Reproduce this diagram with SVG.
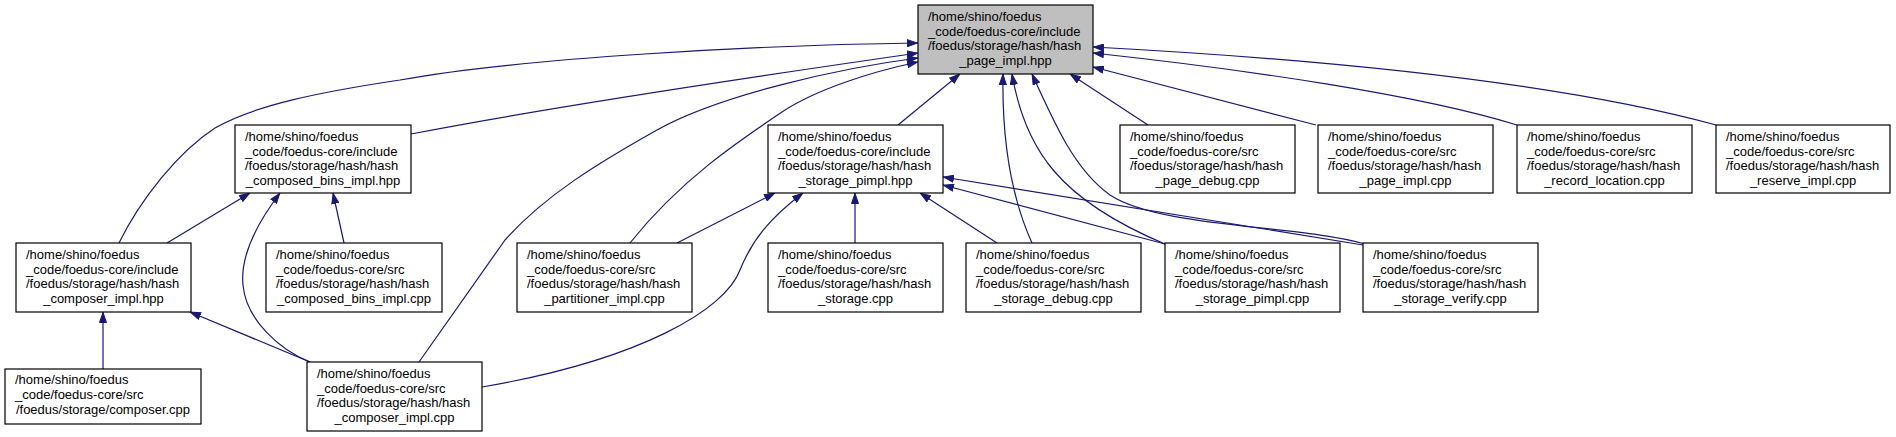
<svg xmlns="http://www.w3.org/2000/svg" width="1896" height="437" viewBox="0 0 1896 437">
<style>
.box{fill:#ffffff;stroke:#000000;stroke-width:1.2}
.root{fill:#bfbfbf;stroke:#000000;stroke-width:1.2}
text{font-family:"Liberation Sans",Arial,sans-serif;font-size:13px;fill:#000000}
.c{text-anchor:middle}
.e{fill:none;stroke:#191970;stroke-width:1.2;marker-start:url(#ah)}
</style>
<defs>
<marker id="ah" viewBox="0 0 11 8" refX="11" refY="4" markerWidth="11" markerHeight="8" markerUnits="userSpaceOnUse" orient="auto-start-reverse">
<path d="M0.5,0.5 L10.5,4 L0.5,7.5 z" fill="#191970" stroke="#191970" stroke-width="1"/>
</marker>
</defs>
<rect width="1896" height="437" fill="#ffffff"/>
<g id="edges">
<path class="e" d="M918,43 C760,45 520,58 400,80 C320,92 255,105 215,128 C178,152 140,200 119,243"/>
<path class="e" d="M918,53 C800,70 560,105 411,134"/>
<path class="e" d="M918,58 C840,68 720,95 657,130 C600,162 545,195 505,240 L419,362"/>
<path class="e" d="M918,62 C870,72 815,90 782,112 C740,140 680,180 630,243"/>
<path class="e" d="M960,74 L898,125"/>
<path class="e" d="M1003,74 C1002,130 1008,190 1032,243"/>
<path class="e" d="M1012,74 C1025,150 1060,200 1165,244"/>
<path class="e" d="M1032,74 C1055,125 1075,170 1110,195 C1160,228 1300,225 1365,244"/>
<path class="e" d="M1070,74 L1148,125"/>
<path class="e" d="M1093,67 L1316,125"/>
<path class="e" d="M1093,53 C1250,70 1420,95 1517,125"/>
<path class="e" d="M1093,47 C1300,58 1550,80 1716,125"/>
<path class="e" d="M250,193 L167,243"/>
<path class="e" d="M280,193 C258,222 240,255 243,285 C246,320 280,350 310,362"/>
<path class="e" d="M333,193 L344,243"/>
<path class="e" d="M103,312 L103,369"/>
<path class="e" d="M190,312 L310,362"/>
<path class="e" d="M775,193 L677,243"/>
<path class="e" d="M803,193 C770,218 752,240 740,270 C725,310 640,360 482,387"/>
<path class="e" d="M855,193 L855,243"/>
<path class="e" d="M920,193 L997,243"/>
<path class="e" d="M943,185 L1165,244"/>
<path class="e" d="M943,177 L1363,245"/>
</g>
<g id="n_page_impl_hpp">
<rect class="root" x="918" y="5" width="175" height="69"/>
<text><tspan x="928" y="20.8">/home/shino/foedus</tspan><tspan x="928" y="35.6">_code/foedus-core/include</tspan><tspan x="928" y="50.4">/foedus/storage/hash/hash</tspan><tspan class="c" x="1005.5" y="65.2">_page_impl.hpp</tspan></text>
</g>
<g id="n_composed_bins_impl_hpp">
<rect class="box" x="235" y="125" width="176" height="68"/>
<text><tspan x="245" y="140.8">/home/shino/foedus</tspan><tspan x="245" y="155.6">_code/foedus-core/include</tspan><tspan x="245" y="170.4">/foedus/storage/hash/hash</tspan><tspan class="c" x="323" y="185.2">_composed_bins_impl.hpp</tspan></text>
</g>
<g id="n_storage_pimpl_hpp">
<rect class="box" x="768" y="125" width="175" height="68"/>
<text><tspan x="778" y="140.8">/home/shino/foedus</tspan><tspan x="778" y="155.6">_code/foedus-core/include</tspan><tspan x="778" y="170.4">/foedus/storage/hash/hash</tspan><tspan class="c" x="855.5" y="185.2">_storage_pimpl.hpp</tspan></text>
</g>
<g id="n_page_debug_cpp">
<rect class="box" x="1120" y="125" width="175" height="68"/>
<text><tspan x="1130" y="140.8">/home/shino/foedus</tspan><tspan x="1130" y="155.6">_code/foedus-core/src</tspan><tspan x="1130" y="170.4">/foedus/storage/hash/hash</tspan><tspan class="c" x="1207.5" y="185.2">_page_debug.cpp</tspan></text>
</g>
<g id="n_page_impl_cpp">
<rect class="box" x="1318" y="125" width="175" height="68"/>
<text><tspan x="1328" y="140.8">/home/shino/foedus</tspan><tspan x="1328" y="155.6">_code/foedus-core/src</tspan><tspan x="1328" y="170.4">/foedus/storage/hash/hash</tspan><tspan class="c" x="1405.5" y="185.2">_page_impl.cpp</tspan></text>
</g>
<g id="n_record_location_cpp">
<rect class="box" x="1517" y="125" width="175" height="68"/>
<text><tspan x="1527" y="140.8">/home/shino/foedus</tspan><tspan x="1527" y="155.6">_code/foedus-core/src</tspan><tspan x="1527" y="170.4">/foedus/storage/hash/hash</tspan><tspan class="c" x="1604.5" y="185.2">_record_location.cpp</tspan></text>
</g>
<g id="n_reserve_impl_cpp">
<rect class="box" x="1716" y="125" width="174" height="68"/>
<text><tspan x="1726" y="140.8">/home/shino/foedus</tspan><tspan x="1726" y="155.6">_code/foedus-core/src</tspan><tspan x="1726" y="170.4">/foedus/storage/hash/hash</tspan><tspan class="c" x="1803" y="185.2">_reserve_impl.cpp</tspan></text>
</g>
<g id="n_composer_impl_hpp">
<rect class="box" x="16" y="243" width="175" height="69"/>
<text><tspan x="26" y="258.8">/home/shino/foedus</tspan><tspan x="26" y="273.6">_code/foedus-core/include</tspan><tspan x="26" y="288.4">/foedus/storage/hash/hash</tspan><tspan class="c" x="103.5" y="303.2">_composer_impl.hpp</tspan></text>
</g>
<g id="n_composed_bins_impl_cpp">
<rect class="box" x="266" y="243" width="176" height="69"/>
<text><tspan x="276" y="258.8">/home/shino/foedus</tspan><tspan x="276" y="273.6">_code/foedus-core/src</tspan><tspan x="276" y="288.4">/foedus/storage/hash/hash</tspan><tspan class="c" x="354" y="303.2">_composed_bins_impl.cpp</tspan></text>
</g>
<g id="n_partitioner_impl_cpp">
<rect class="box" x="517" y="243" width="175" height="69"/>
<text><tspan x="527" y="258.8">/home/shino/foedus</tspan><tspan x="527" y="273.6">_code/foedus-core/src</tspan><tspan x="527" y="288.4">/foedus/storage/hash/hash</tspan><tspan class="c" x="604.5" y="303.2">_partitioner_impl.cpp</tspan></text>
</g>
<g id="n_storage_cpp">
<rect class="box" x="768" y="243" width="175" height="69"/>
<text><tspan x="778" y="258.8">/home/shino/foedus</tspan><tspan x="778" y="273.6">_code/foedus-core/src</tspan><tspan x="778" y="288.4">/foedus/storage/hash/hash</tspan><tspan class="c" x="855.5" y="303.2">_storage.cpp</tspan></text>
</g>
<g id="n_storage_debug_cpp">
<rect class="box" x="966" y="243" width="175" height="69"/>
<text><tspan x="976" y="258.8">/home/shino/foedus</tspan><tspan x="976" y="273.6">_code/foedus-core/src</tspan><tspan x="976" y="288.4">/foedus/storage/hash/hash</tspan><tspan class="c" x="1053.5" y="303.2">_storage_debug.cpp</tspan></text>
</g>
<g id="n_storage_pimpl_cpp">
<rect class="box" x="1165" y="243" width="175" height="69"/>
<text><tspan x="1175" y="258.8">/home/shino/foedus</tspan><tspan x="1175" y="273.6">_code/foedus-core/src</tspan><tspan x="1175" y="288.4">/foedus/storage/hash/hash</tspan><tspan class="c" x="1252.5" y="303.2">_storage_pimpl.cpp</tspan></text>
</g>
<g id="n_storage_verify_cpp">
<rect class="box" x="1363" y="243" width="175" height="69"/>
<text><tspan x="1373" y="258.8">/home/shino/foedus</tspan><tspan x="1373" y="273.6">_code/foedus-core/src</tspan><tspan x="1373" y="288.4">/foedus/storage/hash/hash</tspan><tspan class="c" x="1450.5" y="303.2">_storage_verify.cpp</tspan></text>
</g>
<g id="n_composer_cpp">
<rect class="box" x="5" y="369" width="196" height="55"/>
<text><tspan x="15" y="384">/home/shino/foedus</tspan><tspan x="15" y="398.8">_code/foedus-core/src</tspan><tspan class="c" x="103" y="413.6">/foedus/storage/composer.cpp</tspan></text>
</g>
<g id="n_composer_impl_cpp">
<rect class="box" x="307" y="362" width="175" height="69"/>
<text><tspan x="317" y="377.8">/home/shino/foedus</tspan><tspan x="317" y="392.6">_code/foedus-core/src</tspan><tspan x="317" y="407.4">/foedus/storage/hash/hash</tspan><tspan class="c" x="394.5" y="422.2">_composer_impl.cpp</tspan></text>
</g>
</svg>
